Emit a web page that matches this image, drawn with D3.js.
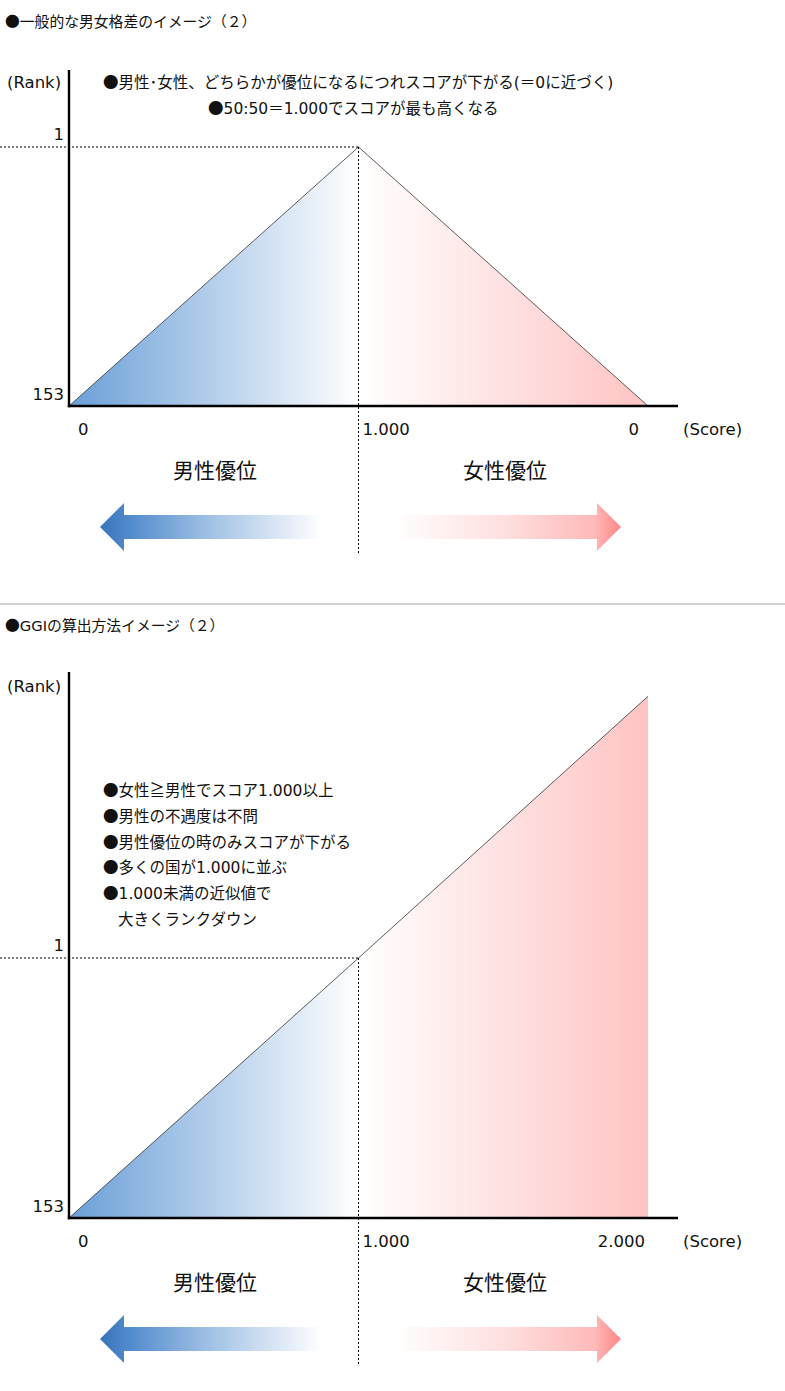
<!DOCTYPE html>
<html><head><meta charset="utf-8">
<script src="https://cdn.jsdelivr.net/npm/d3@7"></script>
<style>
html,body{margin:0;padding:0;background:#fff;}
svg{display:block;}
text{font-family:"DejaVu Sans","Noto Sans CJK JP",sans-serif;fill:#111;}
</style></head><body>
<svg id="c" width="785" height="1391"></svg>
<script>
// ---- data ----
const titles = ["●一般的な男女格差のイメージ（２）", "●GGIの算出方法イメージ（２）"];
const rankTicks = [1, 153];
const scoreTicks = [0, 1, 2];
const scoreLabels1 = ["0", "1.000", "0"];
const scoreLabels2 = ["0", "1.000", "2.000"];
const lineScores = [0, 1, 2];
const lineRanks1 = [153, 1, 153];
const lineRanks2 = [153, 1, -152];
const notes1 = ["●男性･女性、どちらかが優位になるにつれスコアが下がる(＝0に近づく)", "●50:50＝1.000でスコアが最も高くなる"];
const notes2 = ["●女性≧男性でスコア1.000以上", "●男性の不遇度は不問", "●男性優位の時のみスコアが下がる", "●多くの国が1.000に並ぶ", "●1.000未満の近似値で", "大きくランクダウン"];
const sideLabels = ["男性優位", "女性優位"];
const axisTitles = ["(Rank)", "(Score)"];

// ---- layout ----
const svg = d3.select("#c");
const x = d3.scaleLinear().domain([0, 2]).range([69, 648]);
const xAxisEnd = 678;

const defs = svg.append("defs");
function grad(id, x1, x2, stops) {
  const g = defs.append("linearGradient").attr("id", id)
    .attr("gradientUnits", "userSpaceOnUse").attr("x1", x1).attr("x2", x2).attr("y1", 0).attr("y2", 0);
  stops.forEach(s => g.append("stop").attr("offset", s[0]).attr("stop-color", s[1]));
}
grad("gBlue", x(0), x(1), [[0, "#6a9fd8"], [1, "#ffffff"]]);
grad("gPink", x(1), x(2), [[0, "#ffffff"], [1, "#ffc3c3"]]);
grad("aBlue", 100, 322, [[0, "#3773ba"], [0.12, "#4f89cb"], [0.5, "#a2c2e6"], [1, "#ffffff"]]);
grad("aPink", 394, 621, [[0, "#ffffff"], [0.5, "#ffdede"], [0.88, "#ffbaba"], [1, "#ff8585"]]);

function addText(g, str, xx, yy, size, anchor) {
  const t = g.append("text").attr("x", xx).attr("y", yy).attr("font-size", size)
    .attr("text-anchor", anchor || "start");
  const parts = str.split(/([●≧])/).filter(s => s.length);
  parts.forEach(p => {
    const ts = t.append("tspan").text(p);
    if (p === "●" || p === "≧") ts.style("font-family", '"Noto Sans CJK JP",sans-serif');
  });
  return t;
}

const panels = [
  { title: titles[0], scoreLabels: scoreLabels1, ranks: lineRanks1, top: 0, base: 406, r1: 147, axisTop: 70, dashBottom: 553 },
  { title: titles[1], scoreLabels: scoreLabels2, ranks: lineRanks2, top: 604, base: 1218, r1: 958, axisTop: 672, dashBottom: 1365 }
];

panels.forEach((p, pi) => {
  const g = svg.append("g");
  const y = d3.scaleLinear().domain([153, 1]).range([p.base, p.r1]);
  const pts = lineScores.map((s, i) => ({ s, r: p.ranks[i] }));

  // title
  addText(g, p.title, 5, p.top + 27, 14.8);

  // areas
  const area = d3.area().x(d => x(d.s)).y0(y(153)).y1(d => y(d.r));
  g.append("path").datum(pts.slice(0, 2)).attr("d", area).attr("fill", "url(#gBlue)");
  g.append("path").datum(pts.slice(1, 3)).attr("d", area).attr("fill", "url(#gPink)");

  // line
  const line = d3.line().x(d => x(d.s)).y(d => y(d.r));
  g.append("path").datum(pts).attr("d", line).attr("fill", "none").attr("stroke", "#333").attr("stroke-width", 0.8);

  // dashed guides
  g.append("line").attr("x1", 0).attr("x2", x(1)).attr("y1", y(1)).attr("y2", y(1))
    .attr("stroke", "#000").attr("stroke-width", 1).attr("stroke-dasharray", "2,2");
  g.append("line").attr("x1", x(1)).attr("x2", x(1)).attr("y1", y(1)).attr("y2", p.dashBottom)
    .attr("stroke", "#000").attr("stroke-width", 1).attr("stroke-dasharray", "2,2");

  // axes
  g.append("line").attr("x1", x(0)).attr("x2", x(0)).attr("y1", p.axisTop).attr("y2", p.base + 1.2)
    .attr("stroke", "#000").attr("stroke-width", 2.4);
  g.append("line").attr("x1", x(0) - 1.2).attr("x2", xAxisEnd).attr("y1", p.base).attr("y2", p.base)
    .attr("stroke", "#000").attr("stroke-width", 2.6);

  // axis labels
  addText(g, axisTitles[0], 7, p.top + 88, 16.5);
  rankTicks.forEach(r => {
    addText(g, String(r), 64, y(r) + (r === 1 ? -7 : -6), 16.5, "end");
  });
  scoreTicks.forEach((s, i) => {
    const lbl = p.scoreLabels[i];
    if (i === 0) addText(g, lbl, x(s) + 9, p.base + 29, 16.5);
    else if (i === 1) addText(g, lbl, x(s) + 4, p.base + 29, 16.5);
    else addText(g, lbl, x(s) - (lbl.length > 1 ? 3 : 9), p.base + 29, 16.5, "end");
  });
  addText(g, axisTitles[1], 683, p.base + 29, 16.5);

  // side labels
  addText(g, sideLabels[0], 215, p.base + 72, 21, "middle");
  addText(g, sideLabels[1], 505, p.base + 72, 21, "middle");

  // arrows
  const cy = p.base + 121;
  const la = [[100, cy], [124, cy - 24], [124, cy - 12], [322, cy - 12], [322, cy + 12], [124, cy + 12], [124, cy + 24]];
  g.append("path").attr("d", d3.line()(la) + "Z").attr("fill", "url(#aBlue)");
  const ra = [[621, cy], [597, cy - 24], [597, cy - 12], [394, cy - 12], [394, cy + 12], [597, cy + 12], [597, cy + 24]];
  g.append("path").attr("d", d3.line()(ra) + "Z").attr("fill", "url(#aPink)");

  // notes
  if (pi === 0) {
    addText(g, notes1[0], 103, 88, 15.5);
    addText(g, notes1[1], 208, 114, 15.5);
  } else {
    notes2.forEach((n, i) => {
      addText(g, n, i === notes2.length - 1 ? 118 : 103, 796 + i * 25.8, 15.5);
    });
  }
});

// separator
svg.append("line").attr("x1", 0).attr("x2", 785).attr("y1", 604).attr("y2", 604)
  .attr("stroke", "#d2d2d2").attr("stroke-width", 2);
</script>
</body></html>
